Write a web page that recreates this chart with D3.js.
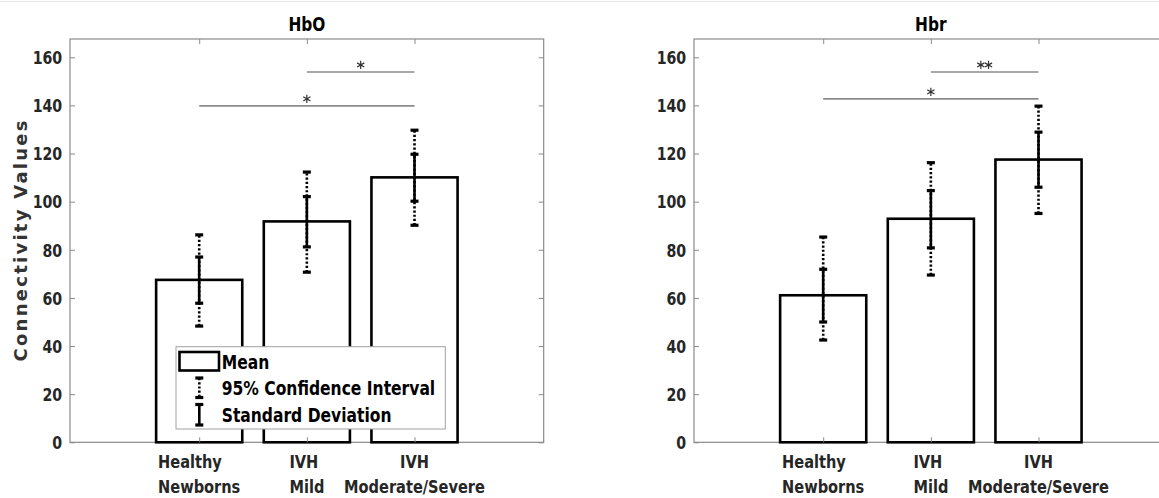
<!DOCTYPE html>
<html>
<head>
<meta charset="utf-8">
<script src="https://cdn.jsdelivr.net/npm/d3@7"></script>
<style>
  html, body { margin: 0; padding: 0; background: #fff; }
  svg { display: block; }
</style>
</head>
<body>
<svg id="chart" width="1159" height="498"></svg>
<script>
// ---------------- data ----------------
const categories = [["Healthy", "Newborns"], ["IVH", "Mild"], ["IVH", "Moderate/Severe"]];
const categoryAlign = ["left", "left", "center"];
const yTicks = [0, 20, 40, 60, 80, 100, 120, 140, 160];

const hboMean   = [67.5, 91.8, 110.1];
const hboSdLow  = [57.8, 81.2, 100.2];
const hboSdHigh = [77.0, 102.1, 119.7];
const hboCiLow  = [48.3, 70.7, 90.2];
const hboCiHigh = [86.2, 112.3, 129.7];
const hboSig    = [[2, 3, 153.9, "*"], [1, 3, 139.8, "*"]];

const hbrMean   = [61.1, 92.9, 117.5];
const hbrSdLow  = [50.0, 80.8, 106.0];
const hbrSdHigh = [71.9, 104.6, 128.9];
const hbrCiLow  = [42.5, 69.5, 95.1];
const hbrCiHigh = [85.3, 116.2, 139.7];
const hbrSig    = [[2, 3, 153.9, "**"], [1, 3, 142.7, "*"]];

const legendLabels = ["Mean", "95% Confidence Interval", "Standard Deviation"];

// ---------------- layout ----------------
const FONT = "'DejaVu Sans Condensed', 'DejaVu Sans', sans-serif";
const SX = 0.9;               // horizontal glyph compression seen in the picture
const TXT = "#262626";
const AX = "#8a8a8a";
const plotTop = 39, plotBottom = 442.3;
const panels = [
  { title: "HbO", left: 70,  right: 543.7, mean: hboMean, sdLow: hboSdLow, sdHigh: hboSdHigh, ciLow: hboCiLow, ciHigh: hboCiHigh, sig: hboSig, ylabel: "Connectivity Values", legend: true },
  { title: "Hbr", left: 694, right: 1167.7, mean: hbrMean, sdLow: hbrSdLow, sdHigh: hbrSdHigh, ciLow: hbrCiLow, ciHigh: hbrCiHigh, sig: hbrSig, ylabel: null, legend: false }
];

const svg = d3.select("#chart");
svg.append("line").attr("x1", 0).attr("x2", 1159).attr("y1", 1.5).attr("y2", 1.5)
  .attr("stroke", "#e6e6e6").attr("stroke-width", 1);

function sText(g, x, y, str, size, anchor, fill) {
  return g.append("text")
    .attr("transform", `translate(${x},${y}) scale(${SX},1)`)
    .attr("font-family", FONT).attr("font-stretch", "condensed")
    .attr("font-weight", "bold").attr("font-size", size)
    .attr("text-anchor", anchor || "start")
    .attr("fill", fill || TXT)
    .text(str);
}

function errCap(g, x, yv, w) {
  g.append("line").attr("x1", x - w / 2).attr("x2", x + w / 2)
    .attr("y1", yv).attr("y2", yv)
    .attr("stroke", "#000").attr("stroke-width", 3.2);
}

panels.forEach(p => {
  const x = d3.scaleLinear().domain([-0.2, 4.2]).range([p.left, p.right]);
  const y = d3.scaleLinear().domain([0, 167.6]).range([plotBottom, plotTop]);
  const g = svg.append("g");

  // frame
  g.append("rect").attr("x", p.left).attr("y", plotTop)
    .attr("width", p.right - p.left).attr("height", plotBottom - plotTop)
    .attr("fill", "none").attr("stroke", AX).attr("stroke-width", 1.2);

  // bars
  const bw = 0.8;
  g.selectAll("rect.bar").data(p.mean).join("rect").attr("class", "bar")
    .attr("x", (d, i) => x(i + 1 - bw / 2))
    .attr("width", x(bw) - x(0))
    .attr("y", d => y(d))
    .attr("height", d => y(0) - y(d))
    .attr("fill", "#fff").attr("stroke", "#000").attr("stroke-width", 2.6);

  // axes ticks (inside)
  const yl = g.append("g").attr("transform", `translate(${p.left},0)`)
    .call(d3.axisLeft(y).tickValues(yTicks).tickSizeInner(-5).tickSizeOuter(0).tickPadding(7.8));
  yl.select(".domain").remove();
  yl.selectAll(".tick line").attr("stroke", AX);
  yl.selectAll(".tick text").each(function () {
    const t = d3.select(this);
    const xx = +t.attr("x");
    t.attr("x", 0).attr("dy", "0.36em")
      .attr("transform", `translate(${xx},0) scale(${SX},1)`)
      .attr("font-family", FONT).attr("font-stretch", "condensed")
      .attr("font-weight", "bold").attr("font-size", 17.5).attr("fill", TXT);
  });
  const yr = g.append("g").attr("transform", `translate(${p.right},0)`)
    .call(d3.axisRight(y).tickValues(yTicks).tickSizeInner(-5).tickSizeOuter(0).tickFormat(""));
  yr.select(".domain").remove();
  yr.selectAll(".tick line").attr("stroke", AX);
  const xb = g.append("g").attr("transform", `translate(0,${plotBottom})`)
    .call(d3.axisBottom(x).tickValues([1, 2, 3]).tickSizeInner(-5).tickSizeOuter(0).tickFormat(""));
  xb.select(".domain").remove();
  xb.selectAll(".tick line").attr("stroke", AX);
  const xt = g.append("g").attr("transform", `translate(0,${plotTop})`)
    .call(d3.axisTop(x).tickValues([1, 2, 3]).tickSizeInner(-5).tickSizeOuter(0).tickFormat(""));
  xt.select(".domain").remove();
  xt.selectAll(".tick line").attr("stroke", AX);

  // x tick labels (two lines)
  categories.forEach((lines, i) => {
    const cx = x(i + 1);
    const blk = g.append("g").attr("transform", `translate(${cx},0) scale(${SX},1)`);
    const texts = lines.map((ln, j) => blk.append("text")
      .attr("y", 468 + j * 25.5)
      .attr("font-family", FONT).attr("font-stretch", "condensed")
      .attr("font-weight", "bold").attr("font-size", 18).attr("fill", TXT)
      .text(ln));
    if (categoryAlign[i] === "left") {
      const maxW = d3.max(texts, t => t.node().getComputedTextLength());
      texts.forEach(t => t.attr("x", -maxW / 2).attr("text-anchor", "start"));
    } else {
      texts.forEach(t => t.attr("x", 0).attr("text-anchor", "middle"));
    }
  });

  // error bars
  p.mean.forEach((m, i) => {
    const cx = x(i + 1);
    const eg = g.append("g");
    eg.append("line").attr("x1", cx).attr("x2", cx)
      .attr("y1", y(p.ciLow[i])).attr("y2", y(p.ciHigh[i]))
      .attr("stroke", "#000").attr("stroke-width", 2.6).attr("stroke-dasharray", "2.2,2");
    eg.append("line").attr("x1", cx).attr("x2", cx)
      .attr("y1", y(p.sdLow[i])).attr("y2", y(p.sdHigh[i]))
      .attr("stroke", "#000").attr("stroke-width", 2.6);
    errCap(eg, cx, y(p.ciLow[i]), 8);
    errCap(eg, cx, y(p.ciHigh[i]), 8);
    errCap(eg, cx, y(p.sdLow[i]), 8);
    errCap(eg, cx, y(p.sdHigh[i]), 8);
  });

  // significance lines
  const star = d3.symbol(d3.symbolAsterisk, 48);
  p.sig.forEach(s => {
    const [a, b, v, lab] = s;
    g.append("line").attr("x1", x(a)).attr("x2", x(b))
      .attr("y1", y(v)).attr("y2", y(v))
      .attr("stroke", "#8c8c8c").attr("stroke-width", 1.6);
    const n = lab.length;
    const mid = x((a + b) / 2);
    for (let k = 0; k < n; k++) {
      const off = (k - (n - 1) / 2) * 7.7;
      g.append("path").attr("d", star)
        .attr("transform", `translate(${mid + off},${y(v) - 7})`)
        .attr("fill", "none").attr("stroke", "#333").attr("stroke-width", 1.2);
    }
  });

  // title
  sText(g, (p.left + p.right) / 2, 30.7, p.title, 19, "middle", "#000");

  // y label
  if (p.ylabel) {
    g.append("text")
      .attr("transform", `translate(26.5,241) rotate(-90)`)
      .attr("font-family", "'DejaVu Sans', sans-serif")
      .attr("font-weight", "bold").attr("font-size", 18)
      .attr("text-anchor", "middle").attr("fill", "#333")
      .attr("textLength", 241).attr("lengthAdjust", "spacing")
      .text(p.ylabel);
  }

  // legend
  if (p.legend) {
    const lg = g.append("g");
    lg.append("rect").attr("x", 176).attr("y", 346.7).attr("width", 269.3).attr("height", 82.3)
      .attr("fill", "#fff").attr("stroke", "#a0a0a0").attr("stroke-width", 1);
    lg.append("rect").attr("x", 179.5).attr("y", 352).attr("width", 39.5).attr("height", 18.5)
      .attr("fill", "#fff").attr("stroke", "#000").attr("stroke-width", 2.6);
    const ix = 199.3;
    lg.append("line").attr("x1", ix).attr("x2", ix).attr("y1", 378).attr("y2", 397.5)
      .attr("stroke", "#000").attr("stroke-width", 2.6).attr("stroke-dasharray", "2.2,2");
    errCap(lg, ix, 378, 8);
    errCap(lg, ix, 397.5, 8);
    lg.append("line").attr("x1", ix).attr("x2", ix).attr("y1", 404.5).attr("y2", 425)
      .attr("stroke", "#000").attr("stroke-width", 2.6);
    errCap(lg, ix, 404.5, 8);
    errCap(lg, ix, 425, 8);
    const baselines = [369, 395, 421.7];
    legendLabels.forEach((l, i) => sText(lg, 221.7, baselines[i], l, 19.2, "start", "#000"));
  }
});
</script>
</body>
</html>
